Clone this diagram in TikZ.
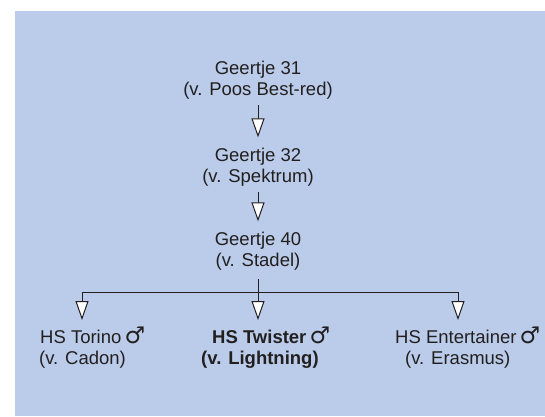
\documentclass[tikz,border=0pt]{standalone}
\usepackage{fontspec}
\setmainfont{Liberation Sans}
\newfontfamily\symfont{DejaVu Sans}
\newcommand{\male}{{\symfont\mdseries\fontsize{23}{22}\selectfont ♂}}
\usetikzlibrary{arrows.meta}
\definecolor{bgblue}{RGB}{186,204,233}
\definecolor{ink}{RGB}{35,31,32}
\begin{document}
\begin{tikzpicture}[x=1pt,y=-1pt,
  txt/.style={font=\fontsize{18.5}{22}\selectfont, inner sep=0pt, text=ink},
  btxt/.style={txt, font=\fontsize{18.5}{22}\selectfont\bfseries},
  link/.style={draw=ink, line width=1pt},
  arr/.style={link, -{Triangle[length=19pt,width=13pt,fill=white]}}]
\useasboundingbox (0,0) rectangle (545,416);
\fill[bgblue] (14.5,11) rectangle (545,416);
% parents
\node[txt, anchor=base] (g31a) at (258,74) {Geertje 31};
\node[txt, anchor=base] (g31b) at (258,95) {(v. Poos Best-red)};
\node[txt, anchor=base] (g32a) at (258,161) {Geertje 32};
\node[txt, anchor=base] (g32b) at (258,182) {(v. Spektrum)};
\node[txt, anchor=base] (g40a) at (258,245) {Geertje 40};
\node[txt, anchor=base] (g40b) at (258,266) {(v. Stadel)};
% children
\node[txt, anchor=base west] (c1a) at (40,343) {HS Torino\,\male};
\node[txt, anchor=base west] (c1b) at (39,364) {(v. Cadon)};
\node[btxt, anchor=base west] (c2a) at (212,343) {HS Twister\,\male};
\node[btxt, anchor=base west] (c2b) at (201,364) {(v. Lightning)};
\node[txt, anchor=base west] (c3a) at (395,343) {HS Entertainer\,\male};
\node[txt, anchor=base west] (c3b) at (405,364) {(v. Erasmus)};
% connectors
\coordinate (hl) at (82,292);
\coordinate (hm) at (258,292);
\coordinate (hr) at (458,292);
\draw[arr, shorten <=6pt, shorten >=10pt] (g31b.south -| g31a.south) -- (g32a.north);
\draw[arr, shorten <=6pt, shorten >=10pt] (g32b.south -| g32a.south) -- (g40a.north);
\draw[link, shorten <=9pt] (g40b.south -| g40a.south) -- (hm);
\draw[link] (hl) -- (hr);
\draw[arr] (hl) -- ([yshift=23pt]hl |- c1a.base);
\draw[arr] (hm) -- ([yshift=23pt]hm |- c2a.base);
\draw[arr] (hr) -- ([yshift=23pt]hr |- c3a.base);
\end{tikzpicture}
\end{document}
